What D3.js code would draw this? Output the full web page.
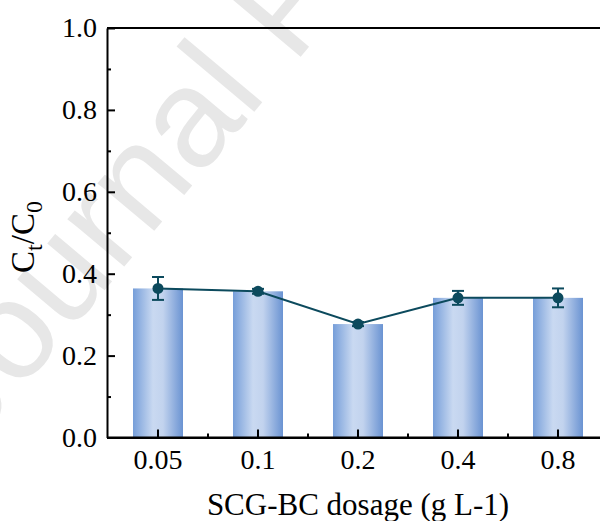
<!DOCTYPE html>
<html>
<head>
<meta charset="utf-8">
<script src="https://cdn.jsdelivr.net/npm/d3@7"></script>
<style>
  body { margin: 0; background: #fff; }
  svg { display: block; }
</style>
</head>
<body>
<svg id="chart"></svg>
<script>
// values
var dosages = ["0.05", "0.1", "0.2", "0.4", "0.8"];
var ratio = [0.364, 0.357, 0.277, 0.341, 0.341];
var errors = [0.028, 0.006, 0.005, 0.017, 0.023];
var yTicks = [0, 0.2, 0.4, 0.6, 0.8, 1.0];
var yMinor = [0.1, 0.3, 0.5, 0.7, 0.9];

var width = 600;
var height = 521;
var plotLeft = 107, plotTop = 28, plotBottom = 437.5;
var dark = "#0c4a5d";
var serif = "'Liberation Serif', 'Times New Roman', serif";

var svg = d3.select("#chart")
    .attr("width", width)
    .attr("height", height);

// faint watermark behind the plot
svg.append("text")
    .attr("transform", "translate(-27,447) rotate(-50)")
    .attr("font-family", "'Liberation Sans', Arial, sans-serif")
    .attr("font-size", 140)
    .attr("fill", "#e7e7e7")
    .text("Journal Pre-proof");

var xScale = d3.scaleBand()
    .domain(dosages)
    .range([plotLeft + 1, plotLeft + 501])
    .paddingInner(0.5)
    .paddingOuter(0.25);

var yScale = d3.scaleLinear()
    .domain([0, 1])
    .range([plotBottom, plotTop]);

var grad = svg.append("defs").append("linearGradient")
    .attr("id", "barFill")
    .attr("x1", "0%").attr("x2", "100%")
    .attr("y1", "0%").attr("y2", "0%");
grad.append("stop").attr("offset", "0%").attr("stop-color", "#769ed9");
grad.append("stop").attr("offset", "40%").attr("stop-color", "#c9d9f1");
grad.append("stop").attr("offset", "60%").attr("stop-color", "#c2d3ee");
grad.append("stop").attr("offset", "100%").attr("stop-color", "#6a93d2");

var rows = dosages.map(function(d, i) {
    return { dose: d, value: ratio[i], err: errors[i] };
});

svg.selectAll("rect.bar")
    .data(rows)
    .enter()
    .append("rect")
    .attr("class", "bar")
    .attr("x", function(d) { return xScale(d.dose); })
    .attr("width", xScale.bandwidth())
    .attr("y", function(d) { return yScale(d.value); })
    .attr("height", function(d) { return yScale(0) - yScale(d.value); })
    .attr("fill", "url(#barFill)");

var cx = function(d) { return xScale(d.dose) + xScale.bandwidth() / 2; };

// connecting line
svg.append("path")
    .datum(rows)
    .attr("fill", "none")
    .attr("stroke", dark)
    .attr("stroke-width", 2)
    .attr("d", d3.line()
        .x(cx)
        .y(function(d) { return yScale(d.value); }));

// error bars
var eb = svg.selectAll("g.err")
    .data(rows)
    .enter()
    .append("g")
    .attr("class", "err")
    .attr("stroke", dark)
    .attr("stroke-width", 2);
eb.append("line")
    .attr("x1", cx).attr("x2", cx)
    .attr("y1", function(d) { return yScale(d.value + d.err); })
    .attr("y2", function(d) { return yScale(d.value - d.err); });
eb.append("line")
    .attr("x1", function(d) { return cx(d) - 6; })
    .attr("x2", function(d) { return cx(d) + 6; })
    .attr("y1", function(d) { return yScale(d.value + d.err); })
    .attr("y2", function(d) { return yScale(d.value + d.err); });
eb.append("line")
    .attr("x1", function(d) { return cx(d) - 6; })
    .attr("x2", function(d) { return cx(d) + 6; })
    .attr("y1", function(d) { return yScale(d.value - d.err); })
    .attr("y2", function(d) { return yScale(d.value - d.err); });

svg.selectAll("circle")
    .data(rows)
    .enter()
    .append("circle")
    .attr("cx", cx)
    .attr("cy", function(d) { return yScale(d.value); })
    .attr("r", 5.5)
    .attr("fill", dark);

// axes, ticks pointing inward
var yAxis = svg.append("g")
    .attr("transform", "translate(" + plotLeft + ",0)")
    .call(d3.axisLeft(yScale)
        .tickValues(yTicks)
        .tickFormat(d3.format(".1f"))
        .tickSizeInner(-8)
        .tickSizeOuter(0)
        .tickPadding(10));
svg.append("g")
    .attr("transform", "translate(" + plotLeft + ",0)")
    .call(d3.axisLeft(yScale)
        .tickValues(yMinor)
        .tickFormat("")
        .tickSizeInner(-4)
        .tickSizeOuter(0))
    .select(".domain").remove();

var xAxis = svg.append("g")
    .attr("transform", "translate(0," + plotBottom + ")")
    .call(d3.axisBottom(xScale)
        .tickSizeInner(-8)
        .tickSizeOuter(0)
        .tickPadding(12));

var step = xScale.step();
var minorX = dosages.slice(0, -1).map(function(d) { return cx({ dose: d }) + step / 2; });
svg.selectAll("line.minorx")
    .data(minorX)
    .enter()
    .append("line")
    .attr("class", "minorx")
    .attr("x1", function(d) { return d; })
    .attr("x2", function(d) { return d; })
    .attr("y1", plotBottom)
    .attr("y2", plotBottom - 4)
    .attr("stroke", "#000")
    .attr("stroke-width", 2);

[yAxis, xAxis].forEach(function(g) {
    g.select(".domain").attr("stroke-width", 2);
    g.selectAll(".tick text")
        .attr("font-family", serif)
        .attr("font-size", 28)
        .attr("fill", "#000");
});
svg.selectAll("g .tick line").attr("stroke-width", 2);

// top frame line and bottom line running to the clipped right edge
svg.append("line")
    .attr("x1", plotLeft).attr("x2", plotLeft + 501)
    .attr("y1", plotTop).attr("y2", plotTop)
    .attr("stroke", "#000").attr("stroke-width", 2);
svg.append("line")
    .attr("x1", plotLeft).attr("x2", plotLeft + 501)
    .attr("y1", plotBottom).attr("y2", plotBottom)
    .attr("stroke", "#000").attr("stroke-width", 2);

// axis titles
svg.append("text")
    .attr("x", 358)
    .attr("y", 515)
    .attr("text-anchor", "middle")
    .attr("font-family", serif)
    .attr("font-size", 31)
    .text("SCG-BC dosage (g L-1)");

var yt = svg.append("text")
    .attr("transform", "translate(34,237) rotate(-90)")
    .attr("text-anchor", "middle")
    .attr("font-family", serif)
    .attr("font-size", 33);
yt.append("tspan").text("C");
yt.append("tspan").attr("font-size", 24).attr("dy", 8).text("t");
yt.append("tspan").attr("dy", -8).text("/C");
yt.append("tspan").attr("font-size", 24).attr("dy", 8).text("0");
</script>
</body>
</html>
